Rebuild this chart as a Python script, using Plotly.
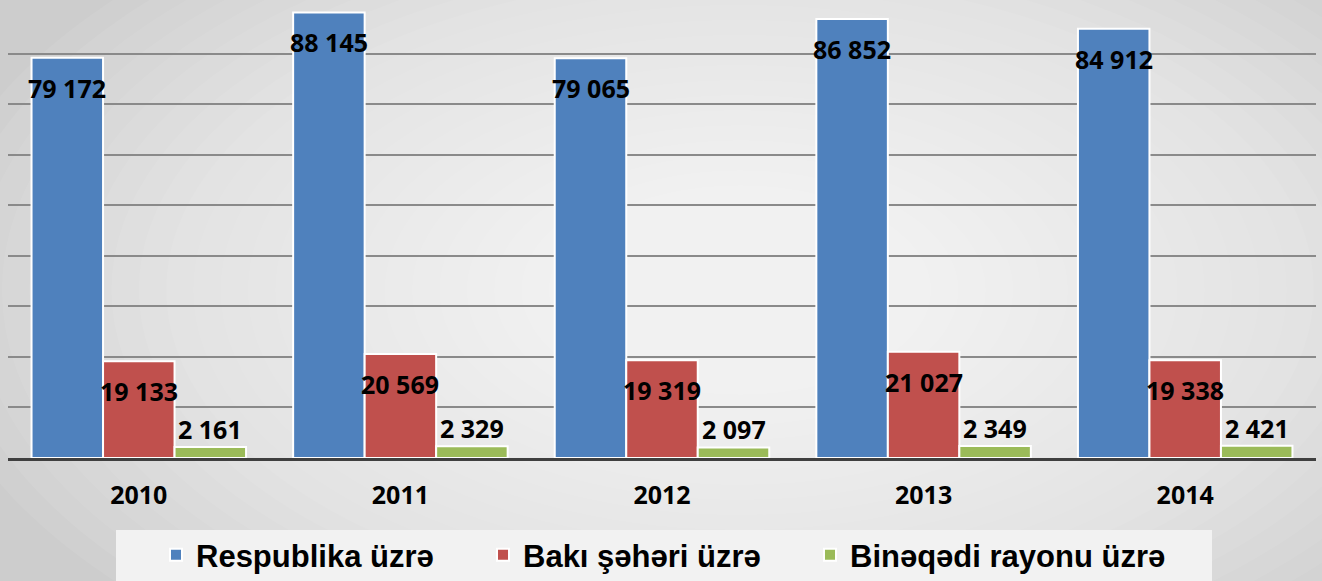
import plotly.graph_objects as go

years = [2010, 2011, 2012, 2013, 2014]
year_labels = ["2010", "2011", "2012", "2013", "2014"]
series_names = ["Respublika üzrə", "Bakı şəhəri üzrə", "Binəqədi rayonu üzrə"]
respublika = [79172, 88145, 79065, 86852, 84912]
baki = [19133, 20569, 19319, 21027, 19338]
bineqedi = [2161, 2329, 2097, 2349, 2421]

colors = ["#4f81bd", "#c0504d", "#9bbb59"]
series_values = [respublika, baki, bineqedi]
legend_ids = ["legend", "legend2", "legend3"]
legend_x = [156, 483, 810]  # left edge of each legend entry, px

BARGAP = 0.18
bar_w = (1 - BARGAP) / 3


def fmt(v):
    # thousands separated by a space
    return f"{v:,}".replace(",", " ")


fig = go.Figure()
for name, vals, col, lg in zip(series_names, series_values, colors, legend_ids):
    fig.add_trace(
        go.Bar(
            x=years,
            y=vals,
            name=name,
            legend=lg,
            marker=dict(color=col, line=dict(color="white", width=2)),
            hoverinfo="skip",
        )
    )

# data labels: inside near the top for the tall bars, above for the small ones
annotations = []
for i, vals in enumerate(series_values):
    shift = -30 if i < 2 else 18
    for yr, v in zip(years, vals):
        annotations.append(
            dict(
                x=yr + (i - 1) * bar_w,
                y=v,
                xref="x",
                yref="y",
                text=fmt(v),
                showarrow=False,
                yshift=shift,
                font=dict(family="Open Sans", size=25, color="black", weight="bold"),
            )
        )

# soft radial background, built from stacked translucent ellipses
L, R, T, B = 8, 1316, 3, 458
W, H = R - L, B - T


def px_x(p):
    return (p - L) / W


def px_y(p):
    return (B - p) / H


shapes = []
cx, cy = 740, 290
n = 30
for k in range(n):
    s = 1 - k / n
    rx, ry = 820 * s, 450 * s
    shapes.append(
        dict(
            type="circle",
            xref="paper",
            yref="paper",
            x0=px_x(cx - rx),
            x1=px_x(cx + rx),
            y0=px_y(cy + ry),
            y1=px_y(cy - ry),
            fillcolor="white",
            opacity=0.065,
            line=dict(width=0),
            layer="below",
        )
    )

# legend panel
shapes.append(
    dict(
        type="rect",
        xref="paper",
        yref="paper",
        x0=px_x(116),
        x1=px_x(1212),
        y0=px_y(600),
        y1=px_y(530),
        fillcolor="#f2f2f2",
        line=dict(width=0),
        layer="below",
    )
)

legend_style = dict(
    orientation="h",
    xref="container",
    yref="container",
    xanchor="left",
    y=1 - 528 / 581,
    yanchor="top",
    bgcolor="rgba(0,0,0,0)",
    font=dict(family="Liberation Sans", size=31, color="black", weight="bold"),
    itemwidth=30,
)
legends = {
    lg: dict(legend_style, x=lx / 1322) for lg, lx in zip(legend_ids, legend_x)
}

fig.update_layout(
    width=1322,
    height=581,
    margin=dict(l=L, r=1322 - R, t=T, b=581 - B, autoexpand=False),
    paper_bgcolor="#cdcdcd",
    plot_bgcolor="rgba(0,0,0,0)",
    barmode="group",
    bargap=BARGAP,
    bargroupgap=0,
    shapes=shapes,
    annotations=annotations,
    showlegend=True,
    xaxis=dict(
        range=[2009.5, 2014.5],
        tickvals=years,
        ticktext=year_labels,
        showgrid=False,
        showline=True,
        linecolor="#3f3f3f",
        linewidth=3,
        ticks="",
        automargin=False,
        ticklabelstandoff=13,
        tickfont=dict(family="Open Sans", size=25, color="black", weight="bold"),
        fixedrange=True,
    ),
    yaxis=dict(
        range=[0, 90000],
        dtick=10000,
        showgrid=True,
        gridcolor="#8a8a8a",
        gridwidth=2,
        zeroline=False,
        showticklabels=False,
        automargin=False,
        fixedrange=True,
    ),
    **legends,
)

# the page body has a default 8px margin; drop it so the figure fills the window
fig.write_html(
    "out.html",
    config={"displayModeBar": False},
    post_script="document.body.style.margin = '0';",
)
